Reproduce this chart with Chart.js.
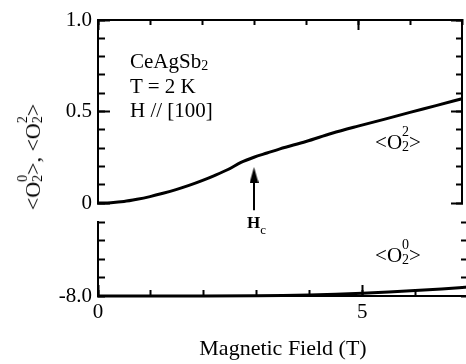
<!DOCTYPE html>
<html>
<head>
<meta charset="utf-8">
<script src="https://cdn.jsdelivr.net/npm/chart.js@4.4.0/dist/chart.umd.min.js"></script>
<style>
  html, body { margin: 0; padding: 0; background: #fff; overflow: hidden; }
  #wrap { position: relative; width: 466px; height: 364px; overflow: hidden;
          font-family: 'Liberation Serif', 'Times New Roman', serif; color: #000; }
  canvas { position: absolute; left: 0; }
  #topChart { top: 0; }
  #bottomChart { top: 200px; }
  .lbl { position: absolute; font-size: 21px; line-height: 1; white-space: nowrap; }
  .ss { position: relative; display: inline-block; width: 7px; height: 1px; }
  .ss .up, .ss .dn { position: absolute; left: 0; font-size: 14px; line-height: 1; }
  .ss .up { top: -23px; }
  .ss .dn { top: -8px; }
  #ytitle { position: absolute; left: 33px; top: 157px; font-size: 22px; line-height: 1;
            white-space: nowrap; transform: translate(-50%, -50%) rotate(-90deg); }
</style>
</head>
<body>
<div id="wrap">
  <canvas id="topChart" width="470" height="222"></canvas>
  <canvas id="bottomChart" width="470" height="164"></canvas>

  <div class="lbl" style="left:130px; top:51px;">CeAgSb<span class="ss"><span class="dn">2</span></span></div>
  <div class="lbl" style="left:130px; top:76px;">T = 2 K</div>
  <div class="lbl" style="left:130px; top:100px;">H // [100]</div>

  <div class="lbl" style="left:398px; top:132px; transform:translateX(-50%);">&lt;O<span class="ss"><span class="up">2</span><span class="dn">2</span></span>&gt;</div>
  <div class="lbl" style="left:398px; top:245px; transform:translateX(-50%);">&lt;O<span class="ss"><span class="up">0</span><span class="dn">2</span></span>&gt;</div>

  <div class="lbl" style="left:247px; top:214px; font-size:17px; font-weight:bold;">H<span style="font-size:13px; font-weight:normal; position:relative; top:6px;">c</span></div>

  <div id="ytitle">&lt;O<span class="ss"><span class="up">0</span><span class="dn">2</span></span>&gt;, &lt;O<span class="ss"><span class="up">2</span><span class="dn">2</span></span>&gt;</div>
</div>

<script>
// field (T) and the two quadrupole moments
const fieldO22 = [0, 0.25, 0.5, 0.75, 1.0, 1.25, 1.5, 1.75, 2.0, 2.25, 2.5, 2.75, 3.0, 3.25, 3.5, 4.0, 4.5, 5.0, 5.5, 6.0, 6.5, 7.0];
const o22 = [0, 0.002, 0.008, 0.02, 0.035, 0.053, 0.073, 0.096, 0.122, 0.151, 0.183, 0.222, 0.25, 0.273, 0.296, 0.336, 0.381, 0.42, 0.457, 0.495, 0.532, 0.57];

const fieldO20 = [0, 1, 2, 3, 3.5, 4, 4.5, 5, 5.5, 6, 6.5, 7];
const o20 = [-8.0, -8.0, -8.0, -7.999, -7.997, -7.994, -7.99, -7.985, -7.978, -7.97, -7.962, -7.952];

// Hc arrow
const hcField = 3.0;
const hcArrowY = [-0.04, 0.153];

// axes
const fieldRange = [0, 7];
const topRange = [0, 1.0];
const bottomRange = [-8.0, -7.6];
const xMajorTicks = [0, 5];
const topMajorTicks = [0, 0.5, 1.0];
const bottomMajorTicks = [-8.0];

Chart.defaults.font.family = "'Liberation Serif', 'Times New Roman', serif";
Chart.defaults.font.size = 21;
Chart.defaults.color = '#000';

// zero-size axis that only draws inward tick marks
function tickAxis(position, range, step, len, extra) {
  return Object.assign({
    type: 'linear', position: position, min: range[0], max: range[1], weight: 0,
    ticks: { stepSize: step, display: false, includeBounds: false },
    grid: { drawOnChartArea: false, tickLength: -len, tickWidth: 2, tickColor: '#000' },
    border: { display: true, color: '#000', width: 2 },
    afterFit: s => { if (s.isHorizontal()) s.height = 0; else s.width = 0; }
  }, extra || {});
}

function fixedTicks(list) {
  return s => { s.ticks = list.map(v => ({ value: v })); };
}

const arrowHead = document.createElement('canvas');
arrowHead.width = 9; arrowHead.height = 16;
(function () {
  const c = arrowHead.getContext('2d');
  c.fillStyle = '#000';
  c.beginPath(); c.moveTo(4.5, 0); c.lineTo(9, 16); c.lineTo(0, 16); c.closePath(); c.fill();
})();

new Chart(document.getElementById('topChart'), {
  type: 'line',
  data: {
    datasets: [{
      data: fieldO22.map((x, i) => ({ x: x, y: o22[i] })),
      borderColor: '#000', borderWidth: 3, pointRadius: 0,
      cubicInterpolationMode: 'monotone', borderJoinStyle: 'round', clip: 4
    }, {
      data: hcArrowY.map(y => ({ x: hcField, y: y })),
      borderColor: '#000', borderWidth: 2, backgroundColor: '#000',
      pointRadius: [0, 6], pointStyle: arrowHead, clip: false
    }]
  },
  options: {
    responsive: false, animation: false, devicePixelRatio: 1,
    layout: { padding: { top: 20, left: 0, right: 2, bottom: 19 } },
    plugins: { legend: { display: false }, tooltip: { enabled: false } },
    scales: {
      x: { type: 'linear', min: fieldRange[0], max: fieldRange[1], display: false },
      y: {
        type: 'linear', position: 'left', min: topRange[0], max: topRange[1], weight: 1,
        afterBuildTicks: fixedTicks(topMajorTicks),
        ticks: { padding: 6, callback: v => v === 0 ? '0' : v.toFixed(1) },
        grid: { drawOnChartArea: false, drawTicks: false },
        border: { display: true, color: '#000', width: 2 },
        afterFit: s => { s.width = 98; }
      },
      yMinor: tickAxis('left', topRange, 0.1, 7),
      yMajor: tickAxis('left', topRange, 0.5, 12, { afterBuildTicks: fixedTicks(topMajorTicks) }),
      yRight: tickAxis('right', topRange, 0.1, 6),
      yRightMajor: tickAxis('right', topRange, 0.5, 11, { afterBuildTicks: fixedTicks(topMajorTicks) }),
      xTop: tickAxis('top', fieldRange, 1, 5),
      xTopMajor: tickAxis('top', fieldRange, 5, 10, { afterBuildTicks: fixedTicks(xMajorTicks) })
    }
  }
});

new Chart(document.getElementById('bottomChart'), {
  type: 'line',
  data: {
    datasets: [{
      data: fieldO20.map((x, i) => ({ x: x, y: o20[i] })),
      borderColor: '#000', borderWidth: 3, pointRadius: 0,
      cubicInterpolationMode: 'monotone', borderJoinStyle: 'round', clip: 4
    }]
  },
  options: {
    responsive: false, animation: false, devicePixelRatio: 1,
    layout: { padding: { top: 22, left: 0, right: 2, bottom: 2 } },
    plugins: { legend: { display: false }, tooltip: { enabled: false } },
    scales: {
      x: {
        type: 'linear', position: 'bottom', min: fieldRange[0], max: fieldRange[1], weight: 1,
        afterBuildTicks: fixedTicks(xMajorTicks),
        ticks: { padding: 15, maxRotation: 0, callback: v => String(v) },
        grid: { drawOnChartArea: false, tickLength: -11, tickWidth: 2, tickColor: '#000' },
        border: { display: true, color: '#000', width: 2 },
        title: { display: true, text: 'Magnetic Field (T)', font: { size: 22 }, padding: { top: 0, bottom: 0 } },
        afterFit: s => { s.height = 66; }
      },
      xMinor: tickAxis('bottom', fieldRange, 1, 6),
      y: {
        type: 'linear', position: 'left', min: bottomRange[0], max: bottomRange[1], weight: 1,
        afterBuildTicks: fixedTicks(bottomMajorTicks),
        ticks: { padding: 6, callback: v => v.toFixed(1) },
        grid: { drawOnChartArea: false, drawTicks: false },
        border: { display: true, color: '#000', width: 2 },
        afterFit: s => { s.width = 98; }
      },
      yMinor: tickAxis('left', bottomRange, 0.1, 7),
      yRight: tickAxis('right', bottomRange, 0.1, 7)
    }
  }
});
</script>
</body>
</html>
